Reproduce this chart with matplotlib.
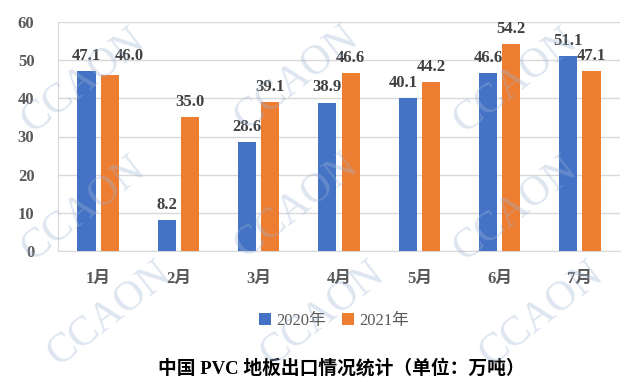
import numpy as np
import matplotlib.pyplot as plt

months = ["1月", "2月", "3月", "4月", "5月", "6月", "7月"]
exports_2020 = [47.1, 8.2, 28.6, 38.9, 40.1, 46.6, 51.1]
exports_2021 = [46.0, 35.0, 39.1, 46.6, 44.2, 54.2, 47.1]
series_names = ["2020年", "2021年"]
title = "中国 PVC 地板出口情况统计（单位：万吨）"

fonts = ["Liberation Serif", "Noto Sans CJK SC"]
plt.rcParams["font.family"] = fonts

blue = "#4472C4"
orange = "#ED7D31"

fig = plt.figure(figsize=(6.44, 3.88), dpi=100)

ax = fig.add_axes([58 / 644, 1 - 251 / 388, 562 / 644, 229 / 388])

x = np.arange(len(months))
w = 0.225
b1 = ax.bar(x - 0.145, exports_2020, w, color=blue, label=series_names[0], zorder=3)
b2 = ax.bar(x + 0.145, exports_2021, w, color=orange, label=series_names[1], zorder=3)

# a few labels are nudged sideways (as the original does) so they don't collide
nudge = {(0, 1): (0.24, 1.1), (4, 0): (-0.05, 0)}
for si, (bars, vals) in enumerate([(b1, exports_2020), (b2, exports_2021)]):
    for i, (r, v) in enumerate(zip(bars, vals)):
        dx, dy = nudge.get((i, si), (0, 0))
        ax.text(r.get_x() + r.get_width() / 2 + dx, v + 2.9 + dy, f"{v:.1f}",
                ha="center", va="baseline", fontsize=12, fontweight="bold",
                color="#404040")

ax.set_xlim(-0.5, len(months) - 0.5)
ax.set_ylim(0, 60)
ax.set_yticks(range(0, 61, 10))
ax.yaxis.grid(True, color="#d9d9d9", linewidth=1, zorder=0)
ax.set_xticks(x)
ax.set_xticklabels(months, fontsize=12, fontweight="bold", color="#595959")
for lab in ax.get_yticklabels():
    lab.set_fontsize(12)
    lab.set_fontweight("bold")
    lab.set_color("#595959")
ax.tick_params(axis="y", length=0, pad=17)
ax.tick_params(axis="x", length=0, pad=14)

for s in ["top", "right"]:
    ax.spines[s].set_visible(False)
ax.spines["left"].set_color("#d9d9d9")
ax.spines["bottom"].set_color("#d9d9d9")

fig.legend(handles=[b1, b2], labels=series_names, loc="center",
           bbox_to_anchor=(334 / 644, 1 - 321 / 388), ncol=2, frameon=False,
           handlelength=0.7, handleheight=0.7, handletextpad=0.3,
           columnspacing=1.0, prop={"family": fonts, "size": 12},
           labelcolor="#595959")

fig.text(341 / 644, 1 - 368 / 388, title, ha="center", va="center", fontsize=13.5,
         fontweight="bold", color="black")

# faint CCAON watermark laid over everything
for wx, wy in [(0.13, 0.79), (0.46, 0.80), (0.80, 0.79),
               (0.13, 0.46), (0.46, 0.47), (0.80, 0.46),
               (0.17, 0.19), (0.50, 0.19), (0.84, 0.19)]:
    fig.text(wx, wy, "CCAON", fontsize=30, color="#9fb6d8", alpha=0.35,
             rotation=38, ha="center", va="center", family="Liberation Serif",
             zorder=10)

fig.savefig("out.png", dpi=100)
